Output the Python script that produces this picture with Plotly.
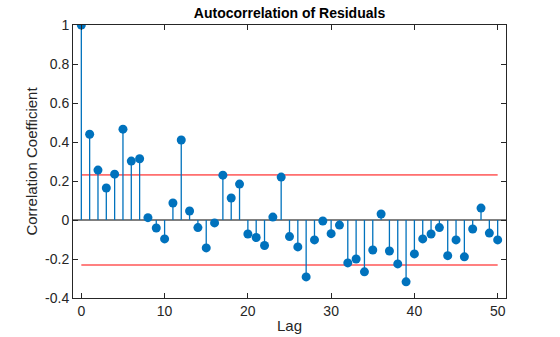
import plotly.graph_objects as go

lags = list(range(51))
acf = [1.0, 0.440, 0.256, 0.164, 0.235, 0.466, 0.302, 0.314, 0.012, -0.041,
       -0.097, 0.087, 0.410, 0.046, -0.039, -0.143, -0.015, 0.230, 0.113, 0.184,
       -0.072, -0.090, -0.131, 0.015, 0.220, -0.085, -0.138, -0.292, -0.102, -0.005,
       -0.070, -0.026, -0.220, -0.200, -0.266, -0.154, 0.031, -0.159, -0.225, -0.317,
       -0.174, -0.097, -0.072, -0.039, -0.183, -0.102, -0.189, -0.046, 0.061, -0.067,
       -0.102]
conf_bound = 0.231
x_ticks = [0, 10, 20, 30, 40, 50]
y_ticks = [-0.4, -0.2, 0, 0.2, 0.4, 0.6, 0.8, 1]
y_tick_labels = ["-0.4", "-0.2", "0", "0.2", "0.4", "0.6", "0.8", "1"]

blue = "#0072BD"
axcol = "#262626"

sx, sy = [], []
for l, v in zip(lags, acf):
    sx += [l, l, None]
    sy += [0, v, None]

fig = go.Figure()
fig.add_trace(go.Scatter(x=[-1, 51], y=[0, 0], mode="lines",
                         line=dict(color="black", width=1), hoverinfo="skip"))
fig.add_trace(go.Scatter(x=[lags[0], lags[-1]], y=[conf_bound, conf_bound], mode="lines",
                         line=dict(color="#ff0000", width=1), hoverinfo="skip"))
fig.add_trace(go.Scatter(x=[lags[0], lags[-1]], y=[-conf_bound, -conf_bound], mode="lines",
                         line=dict(color="#ff8080", width=2), hoverinfo="skip"))
fig.add_trace(go.Scatter(x=sx, y=sy, mode="lines",
                         line=dict(color=blue, width=1.3), hoverinfo="skip"))
fig.add_trace(go.Scatter(x=lags, y=acf, mode="markers",
                         marker=dict(color=blue, size=9, line=dict(width=0))))

fig.update_layout(
    width=560, height=337,
    margin=dict(l=73, r=54, t=25, b=39, autoexpand=False),
    paper_bgcolor="white", plot_bgcolor="white",
    showlegend=False,
    font=dict(family="Liberation Sans, Arial, sans-serif", size=14, color=axcol),
    title=dict(text="<b>Autocorrelation of Residuals</b>", x=0.5, xref="paper",
               xanchor="center", y=1, yref="paper", yanchor="bottom", pad=dict(b=7),
               font=dict(size=14, color="black")),
)
fig.update_xaxes(range=[-1, 51], tickvals=x_ticks, ticks="inside", ticklen=5,
                 tickcolor=axcol, showline=True, linecolor=axcol, linewidth=1,
                 mirror="allticks", showgrid=False, zeroline=False, automargin=False,
                 title=dict(text="Lag", font=dict(size=15), standoff=2))
fig.update_yaxes(range=[-0.4, 1], tickvals=y_ticks, ticktext=y_tick_labels,
                 ticks="inside", ticklen=5, tickcolor=axcol, showline=True,
                 linecolor=axcol, linewidth=1, mirror="allticks", showgrid=False,
                 zeroline=False, automargin=False,
                 title=dict(text="Correlation Coefficient", font=dict(size=15), standoff=3))

fig.write_html("out.html")
